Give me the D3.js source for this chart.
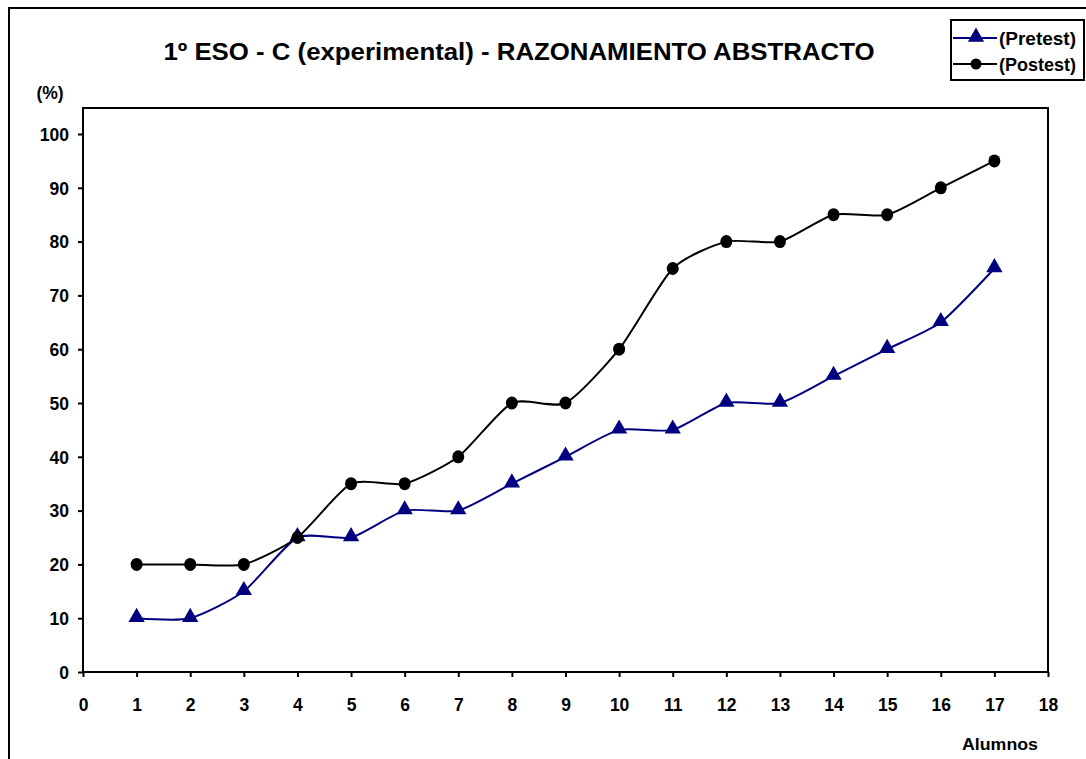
<!DOCTYPE html>
<html>
<head>
<meta charset="utf-8">
<script src="https://cdn.jsdelivr.net/npm/d3@7"></script>
<style>
  body { margin: 0; background: #fff; }
  text { font-family: Arial, "Liberation Sans", sans-serif; font-weight: bold; fill: #000; }
</style>
</head>
<body>
<svg id="chart" width="1086" height="759"></svg>
<script>
//
// Data
//
const alumnos = [1, 2, 3, 4, 5, 6, 7, 8, 9, 10, 11, 12, 13, 14, 15, 16, 17];
const pretest = [10, 10, 15, 25, 25, 30, 30, 35, 40, 45, 45, 50, 50, 55, 60, 65, 75];
const postest = [20, 20, 20, 25, 35, 35, 40, 50, 50, 60, 75, 80, 80, 85, 85, 90, 95];
const xTicks = d3.range(0, 19);
const yTicks = d3.range(0, 101, 10);

//
// Layout
//
const svg = d3.select('#chart');
const plot = {left: 83, right: 1048, top: 108, bottom: 672};
const colorPre = '#000080';
const colorPost = '#000';

const x = d3.scaleLinear().domain([0, 18]).range([plot.left, plot.right]);
const y = d3.scaleLinear().domain([0, 100]).range([plot.bottom, 134]);

// outer chart border
svg.append('rect')
    .attr('x', 9).attr('y', 8)
    .attr('width', 1090).attr('height', 760)
    .attr('fill', 'none').attr('stroke', '#000').attr('stroke-width', 2);

// plot area frame
svg.append('rect')
    .attr('x', plot.left).attr('y', plot.top)
    .attr('width', plot.right - plot.left).attr('height', plot.bottom - plot.top)
    .attr('fill', 'none').attr('stroke', '#000').attr('stroke-width', 2);

// axes
const xAxis = d3.axisBottom(x).tickValues(xTicks).tickSize(5);
const yAxis = d3.axisLeft(y).tickValues(yTicks).tickSize(5);

svg.append('g')
    .attr('transform', `translate(0,${plot.bottom})`)
    .call(xAxis)
    .call(g => g.select('.domain').remove())
    .call(g => g.selectAll('.tick text').attr('y', 39).attr('dy', 0));

svg.append('g')
    .attr('transform', `translate(${plot.left},0)`)
    .call(yAxis)
    .call(g => g.select('.domain').remove())
    .call(g => g.selectAll('.tick text').attr('x', -14).attr('dy', '0.36em'));

svg.selectAll('.tick line').attr('stroke', '#000').attr('stroke-width', 2);
svg.selectAll('.tick text')
    .style('font-size', '17.5px')
    .style('font-family', 'Arial, "Liberation Sans", sans-serif')
    .style('font-weight', 'bold');

// titles
svg.append('text')
    .attr('x', 519).attr('y', 60)
    .attr('text-anchor', 'middle')
    .style('font-size', '24.5px')
    .attr('textLength', 711).attr('lengthAdjust', 'spacingAndGlyphs')
    .text('1º ESO - C (experimental) - RAZONAMIENTO ABSTRACTO');

svg.append('text')
    .attr('x', 50).attr('y', 99)
    .attr('text-anchor', 'middle')
    .style('font-size', '17.5px')
    .text('(%)');

svg.append('text')
    .attr('x', 1000).attr('y', 750)
    .attr('text-anchor', 'middle')
    .style('font-size', '17px')
    .attr('textLength', 76).attr('lengthAdjust', 'spacingAndGlyphs')
    .text('Alumnos');

// lines
const line = d3.line()
    .x((d, i) => x(alumnos[i]))
    .y(d => y(d))
    .curve(d3.curveCardinal.tension(0.35));

svg.append('path')
    .datum(pretest)
    .attr('d', line)
    .attr('fill', 'none').attr('stroke', colorPre).attr('stroke-width', 2);

svg.append('path')
    .datum(postest)
    .attr('d', line)
    .attr('fill', 'none').attr('stroke', colorPost).attr('stroke-width', 2);

// markers
const tri = d3.symbol().type(d3.symbolTriangle).size(115);

svg.append('g').selectAll('path')
    .data(pretest)
    .join('path')
    .attr('transform', (d, i) => `translate(${x(alumnos[i])},${y(d) - 1})`)
    .attr('d', tri)
    .attr('fill', colorPre);

svg.append('g').selectAll('ellipse')
    .data(postest)
    .join('ellipse')
    .attr('cx', (d, i) => x(alumnos[i]))
    .attr('cy', d => y(d))
    .attr('rx', 6).attr('ry', 6.5)
    .attr('fill', colorPost);

// legend
const legend = svg.append('g');
legend.append('rect')
    .attr('x', 951).attr('y', 20).attr('width', 133).attr('height', 60)
    .attr('fill', '#fff').attr('stroke', '#000').attr('stroke-width', 2);

const legendItems = [
  {label: '(Pretest)', color: colorPre, symbol: 'tri', cy: 38},
  {label: '(Postest)', color: colorPost, symbol: 'circle', cy: 64}
];

legendItems.forEach(item => {
  legend.append('line')
      .attr('x1', 953).attr('x2', 997)
      .attr('y1', item.cy).attr('y2', item.cy)
      .attr('stroke', item.color).attr('stroke-width', 2);
  if (item.symbol === 'tri') {
    legend.append('path')
        .attr('transform', `translate(976,${item.cy - 1})`)
        .attr('d', tri).attr('fill', item.color);
  } else {
    legend.append('circle')
        .attr('cx', 976).attr('cy', item.cy).attr('r', 5.5).attr('fill', item.color);
  }
  legend.append('text')
      .attr('x', 999).attr('y', item.cy + 7)
      .style('font-size', '17.5px')
      .attr('textLength', 77).attr('lengthAdjust', 'spacingAndGlyphs')
      .text(item.label);
});
</script>
</body>
</html>
